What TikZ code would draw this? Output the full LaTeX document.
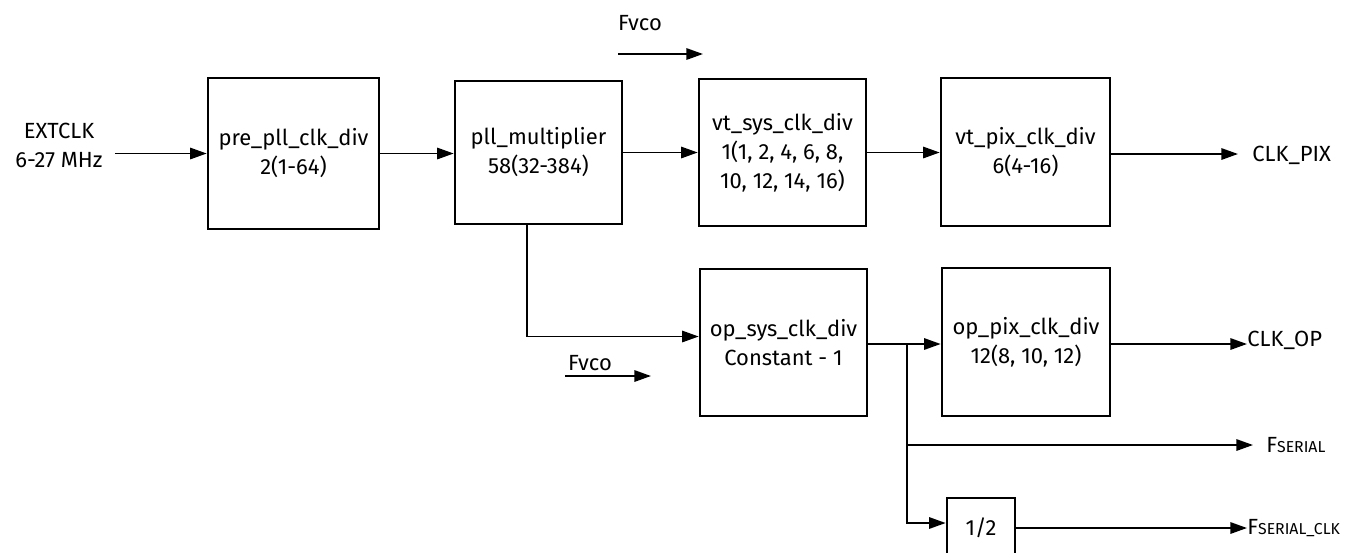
\documentclass[tikz,border=0pt]{standalone}
\usepackage{fontspec}
\setmainfont{Fira Sans}
\usetikzlibrary{arrows.meta}
\usetikzlibrary{calc}

\newcommand{\smallcap}[1]{{\fontsize{9}{10}\selectfont #1}}

\begin{document}
\begin{tikzpicture}[x=0.02cm, y=-0.02cm,
every node/.style={font=\fontsize{12.5}{16.5}\selectfont},
blk/.style={draw, line width=1.5pt, align=center, inner sep=0},
sig/.style={-{Triangle[length=9.5pt, width=6.5pt]}, line width=1.1pt},
lbl/.style={inner sep=0, align=center}]
\clip (0,0) rectangle (1349,552);
\useasboundingbox (0,0) rectangle (1349,552);
% blocks of the upper row
\node[blk, minimum width=3.42cm, minimum height=3.02cm] (pre) at (293.5,153.5) {pre\_pll\_clk\_div\\2(1-64)};
\node[blk, minimum width=3.34cm, minimum height=2.86cm] (pll) at (538.5,152.5) {pll\_multiplier\\58(32-384)};
\node[blk, minimum width=3.34cm, minimum height=2.94cm] (vtsys) at (782.5,152.5) {vt\_sys\_clk\_div\\1(1, 2, 4, 6, 8,\\10, 12, 14, 16)};
\node[blk, minimum width=3.38cm, minimum height=2.96cm] (vtpix) at (1025.5,152) {vt\_pix\_clk\_div\\6(4-16)};
% blocks of the lower row
\node[blk, minimum width=3.34cm, minimum height=2.94cm] (opsys) at (783.5,342.5) {op\_sys\_clk\_div\\Constant - 1};
\node[blk, minimum width=3.36cm, minimum height=2.96cm] (oppix) at (1026,342) {op\_pix\_clk\_div\\12(8, 10, 12)};
\node[blk, minimum width=1.36cm, minimum height=1.2cm] (half) at (981,528) {1/2};
% texts
\node[lbl] (ext) at (59,145) {EXTCLK\\6-27 MHz};
\node[lbl] (fvcoa) at (640,23) {Fvco};
\node[lbl] (fvcob) at (590,363) {Fvco};
\node[lbl, anchor=west] (clkpix) at (1252,155) {CLK\_PIX};
\node[lbl, anchor=west] (clkop) at (1247,340) {CLK\_OP};
\node[lbl, anchor=west] (fser) at (1266,445) {F\smallcap{SERIAL}};
\node[lbl, anchor=west] (fserclk) at (1247,528) {F\smallcap{SERIAL\_CLK}};
% free ends
\coordinate (fvcoa1) at (618,54);
\coordinate (fvcoa2) at (703,54);
\coordinate (fvcob1) at (565,376);
\coordinate (fvcob2) at (651,376);
\coordinate (tap) at (527,224);
\coordinate (fork) at (907,344);
% connectors
\draw[sig] ([xshift=0.24cm]ext.east |- pre.west) -- (pre.west);
\draw[sig] (pre.east) -- (pre.east -| pll.west);
\draw[sig] (pll.east) -- (pll.east -| vtsys.west);
\draw[sig] (vtsys.east) -- (vtsys.east -| vtpix.west);
\draw[sig] ([yshift=-0.04cm]vtpix.east) -- ([xshift=-0.28cm,yshift=-0.04cm]clkpix.west |- vtpix.east);
\draw[sig] (fvcoa1) -- (fvcoa2);
\draw[sig] (fvcob1) -- (fvcob2);
\draw[sig] (tap) |- ([yshift=0.12cm]opsys.west);
\draw[line width=1.1pt] (opsys.east |- fork) -- (fork);
\draw[sig] (fork) -- (fork -| oppix.west);
\draw[sig] (oppix.east |- fork) -- (fork -| clkop.west);
\draw[sig] (fork) |- ([xshift=-0.26cm]fser.west);
\draw[sig] (fork) |- ([yshift=0.1cm]half.west);
\draw[sig] (half.east) -- (fserclk.west);
\end{tikzpicture}
\end{document}
